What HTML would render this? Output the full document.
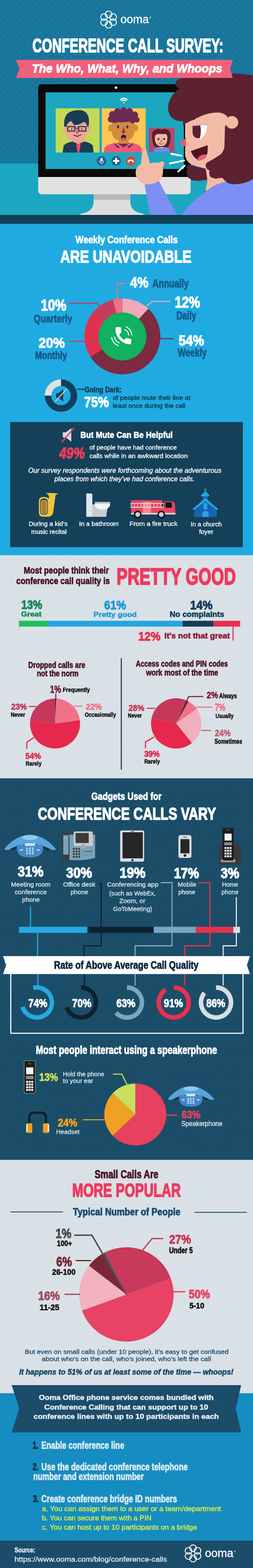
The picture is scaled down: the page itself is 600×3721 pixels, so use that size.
<!DOCTYPE html>
<html><head><meta charset="utf-8"><title>Conference Call Survey: The Who, What, Why, and Whoops</title>
<style>
html,body{margin:0;padding:0;background:#1b7aa1;}
body{width:600px;height:3721px;overflow:hidden;}
svg{display:block;}
text{font-family:'Liberation Sans', Arial, sans-serif;}
</style></head><body>
<svg width="600" height="3721" viewBox="0 0 600 3721">
<defs>
<pattern id="pHdr" x="0" y="0" width="15" height="14.8" patternUnits="userSpaceOnUse"><rect width="15" height="14.8" fill="#18749b"/><circle cx="3.75" cy="3.7" r="2.9" fill="#1c7aa2"/><circle cx="11.25" cy="11.100000000000001" r="2.9" fill="#1c7aa2"/></pattern>
<pattern id="pGray" x="0" y="0" width="6.5" height="6.4" patternUnits="userSpaceOnUse"><rect width="6.5" height="6.4" fill="#dbe2e8"/><circle cx="1.625" cy="1.6" r="0.8" fill="#c8d5de"/><circle cx="4.875" cy="4.800000000000001" r="0.8" fill="#c8d5de"/></pattern>
<pattern id="pTeal" x="0" y="0" width="6.5" height="6.4" patternUnits="userSpaceOnUse"><rect width="6.5" height="6.4" fill="#1a4c67"/><circle cx="1.625" cy="1.6" r="0.8" fill="#265973"/><circle cx="4.875" cy="4.800000000000001" r="0.8" fill="#265973"/></pattern>
<pattern id="pBox" x="0" y="0" width="12" height="12" patternUnits="userSpaceOnUse"><rect width="12" height="12" fill="#163f58"/><circle cx="3.0" cy="3.0" r="0.7" fill="#1b4661"/><circle cx="9.0" cy="9.0" r="0.7" fill="#1b4661"/><circle cx="9.0" cy="3.0" r="0.7" fill="#1b4661"/><circle cx="3.0" cy="9.0" r="0.7" fill="#1b4661"/></pattern>
<pattern id="pBan" x="0" y="0" width="6.5" height="6.4" patternUnits="userSpaceOnUse"><rect width="6.5" height="6.4" fill="#1a4b68"/><circle cx="1.625" cy="1.6" r="0.8" fill="#265973"/><circle cx="4.875" cy="4.800000000000001" r="0.8" fill="#265973"/></pattern>
</defs>
<rect x="0" y="0" width="600" height="388" fill="url(#pHdr)"/>
<rect x="0" y="388" width="600" height="122" fill="#1ca7c0"/>
<rect x="0" y="510" width="600" height="21" fill="#123f56"/>
<rect x="0" y="531" width="600" height="787" fill="#20aae2"/>
<rect x="24" y="1001.5" width="552" height="297" fill="#15405a"/>
<rect x="0" y="1317.5" width="600" height="530" fill="url(#pGray)"/>
<rect x="0" y="1847" width="600" height="905.5" fill="url(#pTeal)"/>
<rect x="0" y="2752.5" width="600" height="554" fill="url(#pGray)"/>
<rect x="0" y="3306.5" width="600" height="350" fill="#168dc0"/>
<rect x="0" y="3656" width="600" height="65" fill="url(#pBan)"/>
<circle cx="257.50" cy="34.20" r="7.9" fill="none" stroke="#fff" stroke-width="2.1"/>
<circle cx="268.15" cy="40.35" r="7.9" fill="none" stroke="#fff" stroke-width="2.1"/>
<circle cx="268.15" cy="52.65" r="7.9" fill="none" stroke="#fff" stroke-width="2.1"/>
<circle cx="257.50" cy="58.80" r="7.9" fill="none" stroke="#fff" stroke-width="2.1"/>
<circle cx="246.85" cy="52.65" r="7.9" fill="none" stroke="#fff" stroke-width="2.1"/>
<circle cx="246.85" cy="40.35" r="7.9" fill="none" stroke="#fff" stroke-width="2.1"/>
<text x="285.5" y="55.0" font-size="27.0" fill="#fff" textLength="67.5" lengthAdjust="spacingAndGlyphs" stroke="#fff" stroke-width="0.5" stroke-linejoin="round">ooma</text>
<text x="354.5" y="44.4" font-size="5.5" fill="#fff" font-weight="bold">®</text>
<text x="77.0" y="123.5" font-size="46.3" fill="#fff" font-weight="bold" textLength="452.9" lengthAdjust="spacingAndGlyphs" stroke="#fff" stroke-width="2.07" stroke-linejoin="round">CONFERENCE CALL SURVEY:</text>
<path d="M222 461 L309 461 L309 478 Q309 503 340 507 L340 510 L191 510 L191 507 Q222 503 222 478 Z" fill="#dcdcdc"/>
<rect x="222" y="461" width="87" height="13" fill="#b7b7b9"/>
<path d="M90.6 420 L452 420 L452 452 Q452 461 443 461 L99.6 461 Q90.6 461 90.6 452 Z" fill="#e2e2e2"/>
<path d="M98.6 200 L444 200 Q452 200 452 208 L452 420 L90.6 420 L90.6 208 Q90.6 200 98.6 200 Z" fill="#0a0a0a"/>
<rect x="108" y="219" width="328" height="182" fill="#1ca7c0"/>
<circle cx="275" cy="208" r="3" fill="#f2f2f2"/>
<path d="M284.9 237.2 A11 11 0 0 1 302.1 237.2" fill="none" stroke="#fff" stroke-width="2.4"/>
<path d="M288.0 239.7 A7 7 0 0 1 299.0 239.7" fill="none" stroke="#fff" stroke-width="2.4"/>
<path d="M290 239.5 A4.5 4.5 0 0 1 297 239.5" fill="none" stroke="#fff" stroke-width="2.4"/>
<circle cx="293.5" cy="244" r="1.6" fill="#fff"/>
<rect x="132" y="257" width="104" height="105" fill="#c3d956"/>
<rect x="241.5" y="257" width="104" height="105" fill="#fdc654"/>
<rect x="353" y="303" width="61" height="58.5" fill="#b04a6c"/>
<path d="M148.5 362 L151 345 Q160 337 176 335 L196 335 Q212 337 220 345 L222 362 Z" fill="#1a3c54"/>
<path d="M176 336 L186 344 L196 336 Z" fill="#f2a394"/>
<path d="M182.5 341 L189.5 341 L191 345 L188 362 L184 362 L181 345 Z" fill="#e8506a"/>
<rect x="174" y="326" width="24" height="12" fill="#f2a394"/>
<ellipse cx="155.5" cy="305" rx="5" ry="7" fill="#f2a394"/>
<ellipse cx="208" cy="305" rx="5" ry="7" fill="#f2a394"/>
<path d="M155 300 Q155 292 165 289 L200 289 Q209 292 208 300 L208 312 Q207 334 182 335 Q156 334 155 312 Z" fill="#f2a394"/>
<path d="M152.5 301 Q150 278 162 268 Q176 259 195 262 Q212 268 211 290 L210 301 L207 301 Q206 292 199 289 Q190 296 176 297 Q171 290 168 287 Q160 291 157 301 Z" fill="#1a3c54"/>
<rect x="160.5" y="300.5" width="17" height="10.5" fill="none" stroke="#1a3c54" stroke-width="2.6"/>
<rect x="186.5" y="300.5" width="17" height="10.5" fill="none" stroke="#1a3c54" stroke-width="2.6"/>
<path d="M177.5 304.0 L186.5 304.0" fill="none" stroke="#1a3c54" stroke-width="2.2" stroke-linejoin="miter"/>
<circle cx="170" cy="306" r="1.6" fill="#1a3c54"/>
<circle cx="194" cy="306" r="1.6" fill="#1a3c54"/>
<path d="M183 303 L180 318 L187 316 Z" fill="#e8506a"/>
<path d="M175 320 Q183 327 192 319" fill="none" stroke="#1a3c54" stroke-width="2.2"/>
<path d="M246 362 L248 350 Q258 341 275 339 L310 339 Q328 341 335 350 L337 362 Z" fill="#ea5a7c"/>
<path d="M278 339 L293 350 L308 339 Z" fill="#6b2b55"/>
<path d="M270 339 L284 349 L280 352 L272 344 Z" fill="#6b2b55"/>
<path d="M316 339 L302 349 L306 352 L314 344 Z" fill="#6b2b55"/>
<rect x="281" y="327" width="24" height="14" fill="#d28a3e"/>
<ellipse cx="262" cy="304" rx="5.5" ry="8" fill="#d28a3e"/>
<ellipse cx="322" cy="304" rx="5.5" ry="8" fill="#d28a3e"/>
<path d="M264 296 Q264 285 275 282 L310 282 Q320 285 320 296 L319 312 Q317 334 292 335 Q266 334 265 312 Z" fill="#d28a3e"/>
<ellipse cx="292" cy="277" rx="31" ry="13" fill="#6b2b55"/>
<circle cx="263" cy="283" r="7.5" fill="#6b2b55"/>
<circle cx="267" cy="272" r="8.5" fill="#6b2b55"/>
<circle cx="279" cy="265" r="8.5" fill="#6b2b55"/>
<circle cx="293" cy="263" r="8.5" fill="#6b2b55"/>
<circle cx="307" cy="265" r="8.5" fill="#6b2b55"/>
<circle cx="319" cy="273" r="8.5" fill="#6b2b55"/>
<circle cx="324" cy="284" r="7" fill="#6b2b55"/>
<circle cx="271" cy="286" r="6" fill="#6b2b55"/>
<circle cx="314" cy="287" r="6" fill="#6b2b55"/>
<path d="M274 291 Q281 286 288 290" fill="none" stroke="#6b2b55" stroke-width="2.5"/>
<ellipse cx="280" cy="301" rx="2.6" ry="4" fill="#124a5a"/>
<ellipse cx="302" cy="301" rx="2.6" ry="4" fill="#124a5a"/>
<path d="M293 301 L289 316 L297 315 Z" fill="#9c2345"/>
<ellipse cx="293" cy="326" rx="6" ry="6.5" fill="#3a1530"/>
<ellipse cx="293" cy="329" rx="4" ry="2.3" fill="#ec6f8f"/>
<path d="M364 361 L365 354 Q372 349 383 349 Q395 349 402 354 L403 361 Z" fill="#6b8de9"/>
<rect x="378" y="343" width="10" height="8" fill="#f2b8a0"/>
<path d="M361 330 Q358 312 368 308 Q376 304 383 308 Q390 304 398 308 Q407 313 404 330 Q403 345 398 349 L368 349 Q362 345 361 330 Z" fill="#5a1f2f"/>
<path d="M367 328 Q367 318 375 318 L392 318 Q397 318 397 328 Q396 347 382 347 Q368 347 367 328 Z" fill="#f2b8a0"/>
<path d="M367 322 Q374 313 383 317 Q391 313 398 322 L398 316 Q390 308 383 312 Q375 308 366 316 Z" fill="#5a1f2f"/>
<ellipse cx="376" cy="330" rx="2.3" ry="2.6" fill="#5a1f2f"/>
<ellipse cx="389" cy="330" rx="2.3" ry="2.6" fill="#5a1f2f"/>
<path d="M382 331 L380 338 L385 337 Z" fill="#e8506a"/>
<path d="M377 340 Q382 344 388 340" fill="none" stroke="#1a6070" stroke-width="1.5"/>
<circle cx="240.7" cy="382" r="11" fill="#1e5b86"/>
<rect x="238" y="374.5" width="5.4" height="9" fill="#fff" rx="2.7"/>
<path d="M235.5 380.5 Q235.5 387 240.7 387 Q245.9 387 245.9 380.5" fill="none" stroke="#fff" stroke-width="1.4"/>
<path d="M240.7 387.0 L240.7 390.0" fill="none" stroke="#fff" stroke-width="1.4" stroke-linejoin="miter"/>
<circle cx="275.5" cy="382" r="11" fill="#1e5b86"/>
<rect x="273.3" y="374.5" width="4.4" height="15" fill="#fff" rx="1"/>
<rect x="268" y="379.8" width="15" height="4.4" fill="#fff" rx="1"/>
<circle cx="310" cy="382" r="11" fill="#d9472f"/>
<path d="M302.5 385.5 Q302 378.5 310 378.5 Q318 378.5 317.5 385.5 L314.5 385.5 L313.8 382.5 Q310 381.3 306.2 382.5 L305.5 385.5 Z" fill="#fff"/>
<path d="M437.8 287 Q412 290 402 272 Q394 252 405 232 Q414 216 426.3 210.8 Q414 206 416.6 196 Q419 186 432 185.5 Q445 179.5 470 177 Q520 174 545 174 Q575 174.5 600 179 L600 426 Q585 436 560 437 Q540 440 520 440 L493 440 L488 400 L470 380 L455 300 Z" fill="#5c2232"/>
<path d="M439 284 L439 368 Q441 382 452 389 Q468 396 486.5 400 L492 430 L487 452 L540 452 L540 432 L527.5 421.7 L510.6 424 L499.8 420.5 Q494 412 497.3 404.8 Q488 402 487.7 391.6 Q490 385 493.7 384.3 Q508 377 525 365 Q532 355 532.3 348 L533.5 300 L541 290 L541 280 Q534 266 505 265 Q478 268 460 285 Z" fill="#f3bba6"/>
<path d="M430 510 Q455 480 470 468 Q478 462 483 460 Q497 446 511 439 Q525 433 536 431 Q550 429.5 560 429.5 Q580 425 600 418 L600 510 Z" fill="#7b8ff4"/>
<path d="M527.5 421.7 Q531 427 534.7 430 Q538 433.5 542 435 Q552 438 560 437 Q582 436 600 425 L600 405 L527 405 Z" fill="#5c2232"/>
<path d="M487 400 L468 396 Q452 391 446 392 Q440 396 445 402 Q440 408 445 414 Q443 422 451 424 Q455 430 465 428 Q473 432 481 427 Q488 429 491.5 425 L488 401 Z" fill="#5c2232"/>
<path d="M434 300 L434 268 L470 262 L545 258 L545 283 Q540 270 528 268.4 Q505 264 479 274.6 Q456 285 438 294 Z" fill="#5c2232"/>
<circle cx="550" cy="290.5" r="15" fill="#f3bba6"/>
<path d="M456.5 299 Q474 295 491.5 297 Q491 318 476 330 Q457 331 456.5 312 Z" fill="#fff"/>
<path d="M456.5 299 L475 297.5 Q478 312 474 328 Q457 330 456.5 312 Z" fill="#5c2232"/>
<path d="M456 298.5 Q474 294 492 296.5" fill="none" stroke="#c9a3b8" stroke-width="1.8"/>
<path d="M441 326.5 L425 341 L441 348.5 Z" fill="#e85a70"/>
<path d="M452.5 358.6 L492.5 344.6 Q493 358 491.3 365 Q486 378 470 380 Q458 374 452.5 358.6 Z" fill="#4e1424"/>
<path d="M467.5 380.5 Q470 369 484 366.5 Q490 366 490.5 368 Q487 378 476 380.5 Q471 381.5 467.5 380.5 Z" fill="#ef5a7a"/>
<path d="M343 438 Q358 428 377 430 L420 510 L356 510 Z" fill="#7b8ff4"/>
<path d="M337 360 Q337 352 340 351 Q345 350 347 356 L356 388 Q365 385 378 386 Q384 381 387 383 Q392 388 386 397 Q388 410 384 420 Q378 432 362 436 Q345 440 333 432 Q320 422 322 405 Q324 395 334 389 Z" fill="#f3bba6"/>
<path d="M406 365 L430 369.5" stroke="#fff" stroke-width="4.2" stroke-linecap="round"/>
<path d="M403 387.7 L436.6 381" stroke="#fff" stroke-width="4.2" stroke-linecap="round"/>
<path d="M422.7 407 L438 393" stroke="#fff" stroke-width="4.2" stroke-linecap="round"/>
<path d="M37.5 142 L552 142 L546 163.5 L552 185 L37.5 185 L46.5 163.5 Z" fill="#f0617b"/>
<text x="75.6" y="172.4" font-size="28.2" fill="#fff" font-weight="bold" font-style="italic" textLength="451.7" lengthAdjust="spacingAndGlyphs" stroke="#fff" stroke-width="1.26" stroke-linejoin="round">The Who, What, Why, and Whoops</text>
<text x="179.0" y="577.1" font-size="24.8" fill="#fff" font-weight="bold" textLength="242.5" lengthAdjust="spacingAndGlyphs" stroke="#fff" stroke-width="1.11" stroke-linejoin="round">Weekly Conference Calls</text>
<text x="142.9" y="622.6" font-size="40.3" fill="#fff" font-weight="bold" textLength="311.2" lengthAdjust="spacingAndGlyphs" stroke="#fff" stroke-width="1.8" stroke-linejoin="round">ARE UNAVOIDABLE</text>
<path d="M290.30 708.40 A90 90 0 0 1 351.91 732.79 L328.63 757.58 A56 56 0 0 0 290.30 742.40 Z" fill="#f0a9b8"/>
<path d="M351.91 732.79 A90 90 0 1 1 214.31 846.62 L243.02 828.41 A56 56 0 1 0 328.63 757.58 Z" fill="#7c2b40"/>
<path d="M214.31 846.62 A90 90 0 0 1 220.95 741.03 L247.15 762.70 A56 56 0 0 0 243.02 828.41 Z" fill="#e4304f"/>
<path d="M220.95 741.03 A90 90 0 0 1 267.92 711.23 L276.37 744.16 A56 56 0 0 0 247.15 762.70 Z" fill="#c63c5b"/>
<path d="M267.92 711.23 A90 90 0 0 1 290.30 708.40 L290.30 742.40 A56 56 0 0 0 276.37 744.16 Z" fill="#f17089"/>
<circle cx="290.3" cy="798.4" r="57" fill="#10b15f"/>
<path transform="translate(267.5 771.5) scale(2.08) rotate(4 12 12)" fill="#fff" stroke="#fff" stroke-width="0.9" stroke-linejoin="round" d="M6.62 10.79c1.44 2.83 3.76 5.14 6.59 6.59l2.2-2.2c.27-.27.67-.36 1.02-.24 1.12.37 2.33.57 3.57.57.55 0 1 .45 1 1V20c0 .55-.45 1-1 1-9.39 0-17-7.61-17-17 0-.55.45-1 1-1h3.5c.55 0 1 .45 1 1 0 1.25.2 2.45.57 3.57.11.35.03.74-.25 1.02l-2.2 2.2z"/>
<path d="M296.10 782.30 A15 15 0 0 1 304.99 795.48" fill="none" stroke="#fff" stroke-width="2.3" stroke-linecap="round"/>
<path d="M299.15 775.45 A22.5 22.5 0 0 1 312.49 795.21" fill="none" stroke="#fff" stroke-width="2.3" stroke-linecap="round"/>
<path d="M282.88 813.62 A19 19 0 0 1 271.35 799.63" fill="none" stroke="#fff" stroke-width="2.3" stroke-linecap="round"/>
<path d="M280.26 820.11 A26 26 0 0 1 264.48 800.96" fill="none" stroke="#fff" stroke-width="2.3" stroke-linecap="round"/>
<path d="M298.5 672.6 L278.3 672.6 L278.3 709.0" fill="none" stroke="#f17089" stroke-width="2.6" stroke-linejoin="miter"/>
<path d="M404.6 715.3 L361.0 715.3 L346.7 727.0" fill="none" stroke="#f0a9b8" stroke-width="2.6" stroke-linejoin="miter"/>
<path d="M378.5 803.7 L412.0 803.7" fill="none" stroke="#7c2b40" stroke-width="2.6" stroke-linejoin="miter"/>
<path d="M163.0 719.5 L229.0 719.5 L237.0 727.0" fill="none" stroke="#c63c5b" stroke-width="2.6" stroke-linejoin="miter"/>
<path d="M163.0 810.0 L201.0 810.0" fill="none" stroke="#e4304f" stroke-width="2.6" stroke-linejoin="miter"/>
<text x="308.8" y="682.0" font-size="34.9" fill="#fff" font-weight="bold" textLength="43.4" lengthAdjust="spacingAndGlyphs" stroke="#fff" stroke-width="1.56" stroke-linejoin="round">4%</text>
<text x="361.6" y="682.2" font-size="27.5" fill="#175a88" font-weight="bold" textLength="85.8" lengthAdjust="spacingAndGlyphs" stroke="#175a88" stroke-width="1.23" stroke-linejoin="round">Annually</text>
<text x="414.5" y="730.4" font-size="36.3" fill="#fff" font-weight="bold" textLength="60.2" lengthAdjust="spacingAndGlyphs" stroke="#fff" stroke-width="1.62" stroke-linejoin="round">12%</text>
<text x="418.4" y="758.4" font-size="26.9" fill="#175a88" font-weight="bold" textLength="47.0" lengthAdjust="spacingAndGlyphs" stroke="#175a88" stroke-width="1.2" stroke-linejoin="round">Daily</text>
<text x="423.8" y="820.2" font-size="35.6" fill="#fff" font-weight="bold" textLength="60.0" lengthAdjust="spacingAndGlyphs" stroke="#fff" stroke-width="1.59" stroke-linejoin="round">54%</text>
<text x="421.6" y="846.3" font-size="27.3" fill="#175a88" font-weight="bold" textLength="68.5" lengthAdjust="spacingAndGlyphs" stroke="#175a88" stroke-width="1.22" stroke-linejoin="round">Weekly</text>
<text x="96.8" y="736.9" font-size="36.3" fill="#fff" font-weight="bold" textLength="60.8" lengthAdjust="spacingAndGlyphs" stroke="#fff" stroke-width="1.62" stroke-linejoin="round">10%</text>
<text x="80.1" y="765.3" font-size="26.2" fill="#175a88" font-weight="bold" textLength="91.2" lengthAdjust="spacingAndGlyphs" stroke="#175a88" stroke-width="1.17" stroke-linejoin="round">Quarterly</text>
<text x="91.8" y="824.5" font-size="33.6" fill="#fff" font-weight="bold" textLength="62.0" lengthAdjust="spacingAndGlyphs" stroke="#fff" stroke-width="1.5" stroke-linejoin="round">20%</text>
<text x="83.1" y="852.0" font-size="26.6" fill="#175a88" font-weight="bold" textLength="76.0" lengthAdjust="spacingAndGlyphs" stroke="#175a88" stroke-width="1.19" stroke-linejoin="round">Monthly</text>
<path d="M144.60 900.20 A38.5 38.5 0 1 1 106.10 938.70 L121.60 938.70 A23 23 0 1 0 144.60 915.70 Z" fill="#123f58"/>
<path d="M106.10 938.70 A38.5 38.5 0 0 1 144.60 900.20 L144.60 915.70 A23 23 0 0 0 121.60 938.70 Z" fill="#dfe2e6"/>
<path d="M133 933 L139 933 L150 924 L150 953 L139 944 L133 944 Z" fill="#123f58"/>
<path d="M131.0 953.0 L158.0 923.0" fill="none" stroke="#b9d3e3" stroke-width="2.4" stroke-linejoin="miter"/>
<path d="M183.0 923.7 L201.0 923.7" fill="none" stroke="#123f58" stroke-width="2.6" stroke-linejoin="miter"/>
<text x="200.4" y="930.6" font-size="18.4" fill="#123f58" font-weight="bold" textLength="88.2" lengthAdjust="spacingAndGlyphs" stroke="#123f58" stroke-width="0.82" stroke-linejoin="round">Going Dark:</text>
<text x="199.6" y="966.2" font-size="35.6" fill="#fff" font-weight="bold" textLength="58.6" lengthAdjust="spacingAndGlyphs" stroke="#fff" stroke-width="1.59" stroke-linejoin="round">75%</text>
<text x="267.4" y="949.1" font-size="14.6" fill="#0f2d45" textLength="184.2" lengthAdjust="spacingAndGlyphs" stroke="#0f2d45" stroke-width="0.37" stroke-linejoin="round">of people mute their line at</text>
<text x="267.4" y="968.3" font-size="14.6" fill="#0f2d45" textLength="172.2" lengthAdjust="spacingAndGlyphs" stroke="#0f2d45" stroke-width="0.37" stroke-linejoin="round">least once during the call</text>
<path d="M149 1026 L156 1026 L169 1016 L169 1048 L156 1038 L149 1038 Z" fill="#dadada"/>
<path d="M146.0 1050.0 L176.0 1015.0" fill="none" stroke="#ef3c5c" stroke-width="3.2" stroke-linejoin="miter"/>
<text x="190.7" y="1039.4" font-size="20.7" fill="#fff" font-weight="bold" textLength="218.9" lengthAdjust="spacingAndGlyphs" stroke="#fff" stroke-width="0.92" stroke-linejoin="round">But Mute Can Be Helpful</text>
<text x="140.4" y="1087.8" font-size="37.6" fill="#f03c5c" font-weight="bold" font-style="italic" textLength="61.0" lengthAdjust="spacingAndGlyphs" stroke="#f03c5c" stroke-width="1.68" stroke-linejoin="round">49%</text>
<text x="212.2" y="1066.7" font-size="14.9" fill="#fff" textLength="207.1" lengthAdjust="spacingAndGlyphs" stroke="#fff" stroke-width="0.38" stroke-linejoin="round">of people have had conference</text>
<text x="212.2" y="1086.8" font-size="14.9" fill="#fff" textLength="233.1" lengthAdjust="spacingAndGlyphs" stroke="#fff" stroke-width="0.38" stroke-linejoin="round">calls while in an awkward location</text>
<text x="66.9" y="1121.8" font-size="16.5" fill="#fff" font-style="italic" textLength="458.2" lengthAdjust="spacingAndGlyphs" stroke="#fff" stroke-width="0.42" stroke-linejoin="round">Our survey respondents were forthcoming about the adventurous</text>
<text x="129.2" y="1141.8" font-size="16.5" fill="#fff" font-style="italic" textLength="332.3" lengthAdjust="spacingAndGlyphs" stroke="#fff" stroke-width="0.42" stroke-linejoin="round">places from which they’ve had conference calls.</text>
<path d="M108 1170 Q123 1169 138.5 1171.4 Q133 1173 131.3 1177 L126.5 1214 Q125 1226 113 1226.3 L102 1226.3 Q92.2 1226.3 92.2 1216 L92.2 1190 Q92.2 1179.3 103 1179.3 Q112 1179.3 116 1184 L116.1 1177 Q113 1172 108 1170 Z" fill="#e9c63b"/>
<rect x="95.3" y="1183" width="17.9" height="38.3" fill="#15405a" rx="7"/>
<rect x="96.8" y="1186.5" width="14.9" height="33" fill="#e9c63b" rx="6"/>
<rect x="98.3" y="1188" width="11.9" height="30" fill="#15405a" rx="5"/>
<rect x="98.8" y="1188.5" width="3" height="29" fill="#e8902c" rx="1.2"/>
<rect x="102.9" y="1188.5" width="3" height="29" fill="#e8902c" rx="1.2"/>
<rect x="107" y="1188.5" width="3" height="29" fill="#e8902c" rx="1.2"/>
<text x="68.0" y="1248.0" font-size="14.3" fill="#fff" textLength="92.4" lengthAdjust="spacingAndGlyphs" stroke="#fff" stroke-width="0.36" stroke-linejoin="round">During a kid’s</text>
<text x="74.1" y="1267.4" font-size="14.3" fill="#fff" textLength="84.0" lengthAdjust="spacingAndGlyphs" stroke="#fff" stroke-width="0.36" stroke-linejoin="round">music recital</text>
<path d="M204.6 1171 L216 1171 Q219 1171 219 1175 L219 1226.5 L204.6 1226.5 Z" fill="#dde6ea"/>
<path d="M219 1197 L256.6 1197 L251.7 1226.5 L219 1226.5 Z" fill="#c6ccd1"/>
<path d="M224.8 1195 L261.5 1195 Q261 1209 243 1209 Q225 1209 224.8 1195 Z" fill="#f3f6f7"/>
<rect x="224.8" y="1191" width="36.7" height="4.3" fill="#b9c1c6" rx="1.5"/>
<text x="187.4" y="1248.0" font-size="14.3" fill="#fff" textLength="94.2" lengthAdjust="spacingAndGlyphs" stroke="#fff" stroke-width="0.36" stroke-linejoin="round">In a bathroom</text>
<path d="M311 1187 L385 1187 L385 1190 L408 1190 Q414 1190 415 1197 L416 1221 L311 1221 Z" fill="#ec4262"/>
<rect x="392.4" y="1192" width="15" height="13" fill="#111" rx="2"/>
<rect x="385" y="1191" width="5" height="14" fill="#111"/>
<rect x="339" y="1191" width="19" height="28.5" fill="#f6879a"/>
<rect x="311" y="1217" width="105" height="4" fill="#d2d2d2"/>
<path d="M309.4 1194.5 L389.3 1194.5" fill="none" stroke="#d8d8d8" stroke-width="2" stroke-linejoin="miter"/>
<path d="M309.4 1204.0 L389.3 1204.0" fill="none" stroke="#d8d8d8" stroke-width="2" stroke-linejoin="miter"/>
<path d="M311.0 1194.5 L311.0 1204.0" fill="none" stroke="#d8d8d8" stroke-width="1.6" stroke-linejoin="miter"/>
<path d="M318.7 1194.5 L318.7 1204.0" fill="none" stroke="#d8d8d8" stroke-width="1.6" stroke-linejoin="miter"/>
<path d="M326.4 1194.5 L326.4 1204.0" fill="none" stroke="#d8d8d8" stroke-width="1.6" stroke-linejoin="miter"/>
<path d="M334.1 1194.5 L334.1 1204.0" fill="none" stroke="#d8d8d8" stroke-width="1.6" stroke-linejoin="miter"/>
<path d="M341.8 1194.5 L341.8 1204.0" fill="none" stroke="#d8d8d8" stroke-width="1.6" stroke-linejoin="miter"/>
<path d="M349.5 1194.5 L349.5 1204.0" fill="none" stroke="#d8d8d8" stroke-width="1.6" stroke-linejoin="miter"/>
<path d="M357.2 1194.5 L357.2 1204.0" fill="none" stroke="#d8d8d8" stroke-width="1.6" stroke-linejoin="miter"/>
<path d="M364.9 1194.5 L364.9 1204.0" fill="none" stroke="#d8d8d8" stroke-width="1.6" stroke-linejoin="miter"/>
<path d="M372.6 1194.5 L372.6 1204.0" fill="none" stroke="#d8d8d8" stroke-width="1.6" stroke-linejoin="miter"/>
<path d="M380.3 1194.5 L380.3 1204.0" fill="none" stroke="#d8d8d8" stroke-width="1.6" stroke-linejoin="miter"/>
<path d="M388.0 1194.5 L388.0 1204.0" fill="none" stroke="#d8d8d8" stroke-width="1.6" stroke-linejoin="miter"/>
<circle cx="326.6" cy="1221" r="9.2" fill="#111"/>
<circle cx="326.6" cy="1221" r="5.8" fill="#c8cdd2"/>
<circle cx="382.4" cy="1221" r="9.2" fill="#111"/>
<circle cx="382.4" cy="1221" r="5.8" fill="#c8cdd2"/>
<text x="307.1" y="1247.8" font-size="14.3" fill="#fff" textLength="113.9" lengthAdjust="spacingAndGlyphs" stroke="#fff" stroke-width="0.36" stroke-linejoin="round">From a fire truck</text>
<path d="M487.0 1159.0 L487.0 1166.0" fill="none" stroke="#2aa3e2" stroke-width="1.8" stroke-linejoin="miter"/>
<path d="M484.0 1161.5 L490.0 1161.5" fill="none" stroke="#2aa3e2" stroke-width="1.8" stroke-linejoin="miter"/>
<path d="M487 1165 L496 1174.4 L478 1174.4 Z" fill="#2aa3e2"/>
<rect x="477" y="1174" width="19" height="4" fill="#2aa3e2"/>
<rect x="481" y="1178" width="12" height="12" fill="#1565b5"/>
<path d="M460.4 1206 L487 1187 L514 1206 L514 1226.8 L460.4 1226.8 Z" fill="#1565b5"/>
<path d="M456.6 1208 L487 1182 L517.7 1208 L513 1210 L487 1189 L461 1210 Z" fill="#2aa3e2"/>
<path d="M482.6 1209 L482.6 1197.5 Q482.6 1193 487.2 1193 Q491.7 1193 491.7 1197.5 L491.7 1209 Z" fill="#2aa3e2"/>
<path d="M480 1226.8 L480 1219 Q480 1212.7 487.4 1212.7 Q494.8 1212.7 494.8 1219 L494.8 1226.8 Z" fill="#2aa3e2"/>
<text x="452.2" y="1248.5" font-size="14.3" fill="#fff" textLength="73.8" lengthAdjust="spacingAndGlyphs" stroke="#fff" stroke-width="0.36" stroke-linejoin="round">In a church</text>
<text x="471.9" y="1267.3" font-size="14.3" fill="#fff" textLength="33.9" lengthAdjust="spacingAndGlyphs" stroke="#fff" stroke-width="0.36" stroke-linejoin="round">foyer</text>
<text x="56.2" y="1361.0" font-size="22.8" fill="#4a1426" font-weight="bold" textLength="201.9" lengthAdjust="spacingAndGlyphs" stroke="#4a1426" stroke-width="1.02" stroke-linejoin="round">Most people think their</text>
<text x="38.5" y="1385.5" font-size="22.8" fill="#4a1426" font-weight="bold" textLength="222.0" lengthAdjust="spacingAndGlyphs" stroke="#4a1426" stroke-width="1.02" stroke-linejoin="round">conference call quality is</text>
<text x="276.6" y="1386.6" font-size="55.1" fill="#f03a5d" font-weight="bold" textLength="282.8" lengthAdjust="spacingAndGlyphs" stroke="#f03a5d" stroke-width="2.46" stroke-linejoin="round">PRETTY GOOD</text>
<text x="50.4" y="1444.8" font-size="29.1" fill="#0e8a58" font-weight="bold" textLength="49.8" lengthAdjust="spacingAndGlyphs" stroke="#0e8a58" stroke-width="1.3" stroke-linejoin="round">13%</text>
<text x="50.1" y="1463.2" font-size="16.8" fill="#0e8a58" font-weight="bold" textLength="48.3" lengthAdjust="spacingAndGlyphs" stroke="#0e8a58" stroke-width="0.75" stroke-linejoin="round">Great</text>
<text x="247.1" y="1445.6" font-size="30.2" fill="#1e9ad8" font-weight="bold" textLength="51.9" lengthAdjust="spacingAndGlyphs" stroke="#1e9ad8" stroke-width="1.35" stroke-linejoin="round">61%</text>
<text x="221.7" y="1464.1" font-size="16.8" fill="#1e9ad8" font-weight="bold" textLength="102.6" lengthAdjust="spacingAndGlyphs" stroke="#1e9ad8" stroke-width="0.75" stroke-linejoin="round">Pretty good</text>
<text x="450.9" y="1445.6" font-size="30.2" fill="#153d58" font-weight="bold" textLength="53.1" lengthAdjust="spacingAndGlyphs" stroke="#153d58" stroke-width="1.35" stroke-linejoin="round">14%</text>
<text x="402.4" y="1464.2" font-size="18.3" fill="#153d58" font-weight="bold" textLength="129.4" lengthAdjust="spacingAndGlyphs" stroke="#153d58" stroke-width="0.82" stroke-linejoin="round">No complaints</text>
<rect x="45" y="1473.2" width="68.4" height="13.8" fill="#1ec158"/>
<rect x="113.2" y="1473.2" width="320.0" height="13.8" fill="#22a6e1"/>
<rect x="433.0" y="1473.2" width="73.60000000000001" height="13.8" fill="#153d58"/>
<rect x="506.4" y="1473.2" width="63.1" height="13.8" fill="#e8304f"/>
<path d="M45.0 1468.0 L45.0 1496.0" fill="none" stroke="#9aa6b0" stroke-width="1" stroke-linejoin="miter"/>
<path d="M552.8 1487.0 L552.8 1520.0" fill="none" stroke="#e8304f" stroke-width="2.6" stroke-linejoin="miter"/>
<text x="327.9" y="1519.7" font-size="29.9" fill="#e8304f" font-weight="bold" textLength="52.8" lengthAdjust="spacingAndGlyphs" stroke="#e8304f" stroke-width="1.34" stroke-linejoin="round">12%</text>
<text x="389.8" y="1514.8" font-size="18.3" fill="#8e1b34" font-weight="bold" textLength="155.3" lengthAdjust="spacingAndGlyphs" stroke="#8e1b34" stroke-width="0.82" stroke-linejoin="round">It’s not that great</text>
<rect x="286.5" y="1562" width="2.5" height="264.5" fill="#153d58"/>
<text x="67.0" y="1584.9" font-size="20.4" fill="#4a1426" font-weight="bold" textLength="135.2" lengthAdjust="spacingAndGlyphs" stroke="#4a1426" stroke-width="0.91" stroke-linejoin="round">Dropped calls are</text>
<text x="87.4" y="1605.2" font-size="20.4" fill="#4a1426" font-weight="bold" textLength="98.8" lengthAdjust="spacingAndGlyphs" stroke="#4a1426" stroke-width="0.91" stroke-linejoin="round">not the norm</text>
<path d="M130.60 1717.00 L129.98 1657.70 A59.3 59.3 0 0 1 133.70 1657.78 Z" fill="#7a2236"/>
<path d="M130.60 1717.00 L133.70 1657.78 A59.3 59.3 0 0 1 189.35 1708.95 Z" fill="#f27189"/>
<path d="M130.60 1717.00 L189.35 1708.95 A59.3 59.3 0 1 1 71.69 1710.18 Z" fill="#e6284c"/>
<path d="M130.60 1717.00 L71.69 1710.18 A59.3 59.3 0 0 1 129.98 1657.70 Z" fill="#c5385a"/>
<path d="M132.3 1646.0 L132.3 1660.0" fill="none" stroke="#7a2236" stroke-width="2.4" stroke-linejoin="miter"/>
<path d="M175.9 1675.7 L194.5 1675.7" fill="none" stroke="#f27189" stroke-width="2.6" stroke-linejoin="miter"/>
<path d="M68.5 1676.6 L86.0 1676.6" fill="none" stroke="#c5385a" stroke-width="2.6" stroke-linejoin="miter"/>
<path d="M63.6 1777.0 L63.6 1761.3 L80.9 1749.8" fill="none" stroke="#e6284c" stroke-width="2.6" stroke-linejoin="miter"/>
<text x="118.7" y="1644.0" font-size="23.9" fill="#7a2236" font-weight="bold" textLength="26.2" lengthAdjust="spacingAndGlyphs" stroke="#7a2236" stroke-width="1.07" stroke-linejoin="round">1%</text>
<text x="148.9" y="1641.6" font-size="14.8" fill="#111111" font-weight="bold" textLength="64.3" lengthAdjust="spacingAndGlyphs" stroke="#111111" stroke-width="0.66" stroke-linejoin="round">Frequently</text>
<text x="203.7" y="1683.9" font-size="20.4" fill="#f27189" font-weight="bold" textLength="37.7" lengthAdjust="spacingAndGlyphs" stroke="#f27189" stroke-width="0.91" stroke-linejoin="round">22%</text>
<text x="200.9" y="1701.4" font-size="14.8" fill="#111111" font-weight="bold" textLength="74.3" lengthAdjust="spacingAndGlyphs" stroke="#111111" stroke-width="0.66" stroke-linejoin="round">Occasionally</text>
<text x="26.5" y="1683.6" font-size="20.4" fill="#c5385a" font-weight="bold" textLength="37.3" lengthAdjust="spacingAndGlyphs" stroke="#c5385a" stroke-width="0.91" stroke-linejoin="round">23%</text>
<text x="25.4" y="1701.2" font-size="14.8" fill="#111111" font-weight="bold" textLength="34.0" lengthAdjust="spacingAndGlyphs" stroke="#111111" stroke-width="0.66" stroke-linejoin="round">Never</text>
<text x="60.3" y="1800.5" font-size="20.4" fill="#e6284c" font-weight="bold" textLength="36.7" lengthAdjust="spacingAndGlyphs" stroke="#e6284c" stroke-width="0.91" stroke-linejoin="round">54%</text>
<text x="61.0" y="1816.8" font-size="14.8" fill="#111111" font-weight="bold" textLength="37.5" lengthAdjust="spacingAndGlyphs" stroke="#111111" stroke-width="0.66" stroke-linejoin="round">Rarely</text>
<text x="322.1" y="1581.5" font-size="20.4" fill="#4a1426" font-weight="bold" textLength="218.4" lengthAdjust="spacingAndGlyphs" stroke="#4a1426" stroke-width="0.91" stroke-linejoin="round">Access codes and PIN codes</text>
<text x="346.4" y="1603.1" font-size="20.4" fill="#4a1426" font-weight="bold" textLength="171.2" lengthAdjust="spacingAndGlyphs" stroke="#4a1426" stroke-width="0.91" stroke-linejoin="round">work most of the time</text>
<path d="M417.80 1716.70 L440.65 1661.54 A59.7 59.7 0 0 1 447.38 1664.84 Z" fill="#7a2236"/>
<path d="M417.80 1716.70 L447.38 1664.84 A59.7 59.7 0 0 1 466.64 1682.37 Z" fill="#f27189"/>
<path d="M417.80 1716.70 L466.64 1682.37 A59.7 59.7 0 0 1 455.13 1763.29 Z" fill="#f2b0bd"/>
<path d="M417.80 1716.70 L455.13 1763.29 A59.7 59.7 0 0 1 359.34 1704.59 Z" fill="#e6284c"/>
<path d="M417.80 1716.70 L359.34 1704.59 A59.7 59.7 0 0 1 440.65 1661.54 Z" fill="#c5385a"/>
<path d="M482.0 1653.0 L447.3 1653.0 L437.5 1676.0" fill="none" stroke="#7a2236" stroke-width="2.6" stroke-linejoin="miter"/>
<path d="M460.8 1678.2 L503.2 1678.2" fill="none" stroke="#f27189" stroke-width="2.6" stroke-linejoin="miter"/>
<path d="M476.3 1733.3 L500.5 1733.3" fill="none" stroke="#c06275" stroke-width="2.6" stroke-linejoin="miter"/>
<path d="M347.8 1680.8 L368.1 1680.8" fill="none" stroke="#c5385a" stroke-width="2.6" stroke-linejoin="miter"/>
<path d="M365.8 1749.0 L345.0 1760.6 L345.0 1775.7" fill="none" stroke="#e6284c" stroke-width="2.6" stroke-linejoin="miter"/>
<text x="490.3" y="1657.3" font-size="21.8" fill="#7a2236" font-weight="bold" textLength="27.1" lengthAdjust="spacingAndGlyphs" stroke="#7a2236" stroke-width="0.97" stroke-linejoin="round">2%</text>
<text x="519.8" y="1656.7" font-size="15.6" fill="#111111" font-weight="bold" textLength="42.1" lengthAdjust="spacingAndGlyphs" stroke="#111111" stroke-width="0.7" stroke-linejoin="round">Always</text>
<text x="509.5" y="1687.3" font-size="23.2" fill="#f27189" font-weight="bold" textLength="24.9" lengthAdjust="spacingAndGlyphs" stroke="#f27189" stroke-width="1.04" stroke-linejoin="round">7%</text>
<text x="511.3" y="1703.7" font-size="14.0" fill="#111111" font-weight="bold" textLength="42.5" lengthAdjust="spacingAndGlyphs" stroke="#111111" stroke-width="0.62" stroke-linejoin="round">Usually</text>
<text x="509.5" y="1747.1" font-size="22.3" fill="#c06275" font-weight="bold" textLength="37.6" lengthAdjust="spacingAndGlyphs" stroke="#c06275" stroke-width="1.0" stroke-linejoin="round">24%</text>
<text x="508.7" y="1765.3" font-size="16.5" fill="#111111" font-weight="bold" textLength="65.6" lengthAdjust="spacingAndGlyphs" stroke="#111111" stroke-width="0.74" stroke-linejoin="round">Sometimes</text>
<text x="305.0" y="1687.0" font-size="20.7" fill="#c5385a" font-weight="bold" textLength="37.2" lengthAdjust="spacingAndGlyphs" stroke="#c5385a" stroke-width="0.92" stroke-linejoin="round">28%</text>
<text x="303.3" y="1702.5" font-size="14.8" fill="#111111" font-weight="bold" textLength="33.1" lengthAdjust="spacingAndGlyphs" stroke="#111111" stroke-width="0.66" stroke-linejoin="round">Never</text>
<text x="341.9" y="1796.0" font-size="20.1" fill="#e6284c" font-weight="bold" textLength="36.6" lengthAdjust="spacingAndGlyphs" stroke="#e6284c" stroke-width="0.9" stroke-linejoin="round">39%</text>
<text x="342.3" y="1811.5" font-size="15.4" fill="#111111" font-weight="bold" textLength="36.9" lengthAdjust="spacingAndGlyphs" stroke="#111111" stroke-width="0.69" stroke-linejoin="round">Rarely</text>
<text x="216.5" y="1898.3" font-size="24.2" fill="#fff" font-weight="bold" textLength="166.9" lengthAdjust="spacingAndGlyphs" stroke="#fff" stroke-width="1.08" stroke-linejoin="round">Gadgets Used for</text>
<text x="89.7" y="1945.1" font-size="40.0" fill="#fff" font-weight="bold" textLength="422.5" lengthAdjust="spacingAndGlyphs" stroke="#fff" stroke-width="1.79" stroke-linejoin="round">CONFERENCE CALLS VARY</text>
<g transform="translate(9 1979) scale(1.0)"><path d="M1 36 Q20 12 46 4 Q62 0 78 4 Q104 12 124 36 Q120 40 111 37 Q92 25 62 24 Q32 25 14 37 Q5 40 1 36 Z" fill="#5ba4dc"/><path d="M14 37 Q32 25 62 24 Q92 25 111 37 L104 39 Q88 29 62 29 Q36 29 21 39 Z" fill="#16303f"/><ellipse cx="62" cy="8.5" rx="19" ry="6" fill="#8ccbf2"/><path d="M31 26 L93 26 L93 34 Q93 56 62 56 Q31 56 31 34 Z" fill="#4687c8"/><rect x="50" y="22" width="24" height="6.5" fill="#cbe8f8"/><ellipse cx="42" cy="38" rx="4" ry="1.8" fill="#bfe0f5"/><ellipse cx="82" cy="38" rx="4" ry="1.8" fill="#bfe0f5"/><ellipse cx="55" cy="34.0" rx="2.6" ry="1.4" fill="#d4ecfa"/><ellipse cx="62" cy="34.0" rx="2.6" ry="1.4" fill="#d4ecfa"/><ellipse cx="69" cy="34.0" rx="2.6" ry="1.4" fill="#d4ecfa"/><ellipse cx="55" cy="38.3" rx="2.6" ry="1.4" fill="#d4ecfa"/><ellipse cx="62" cy="38.3" rx="2.6" ry="1.4" fill="#d4ecfa"/><ellipse cx="69" cy="38.3" rx="2.6" ry="1.4" fill="#d4ecfa"/><ellipse cx="55" cy="42.6" rx="2.6" ry="1.4" fill="#d4ecfa"/><ellipse cx="62" cy="42.6" rx="2.6" ry="1.4" fill="#d4ecfa"/><ellipse cx="69" cy="42.6" rx="2.6" ry="1.4" fill="#d4ecfa"/><ellipse cx="55" cy="46.9" rx="2.6" ry="1.4" fill="#d4ecfa"/><ellipse cx="62" cy="46.9" rx="2.6" ry="1.4" fill="#d4ecfa"/><ellipse cx="69" cy="46.9" rx="2.6" ry="1.4" fill="#d4ecfa"/></g>
<g><path d="M146.8 1978 Q146.8 1976.8 149 1976.8 L165 1976.8 Q167 1976.8 167 1979 L167 2040 Q167 2042.4 164 2042.4 L150 2042.4 Q146.8 2042.4 146.8 2040 Z" fill="#3b3b3d"/><rect x="150" y="1982" width="12.5" height="46" fill="#7da2ba"/><path d="M164.7 1980.8 L225.4 1980.8 L225.4 2036 Q200 2043 164.7 2041 Z" fill="#7da2ba"/><rect x="174.8" y="1973" width="45.4" height="34.7" rx="3" fill="#c9c9cd"/><rect x="179.2" y="1976.8" width="31.2" height="23.7" fill="#3b3b3d"/><circle cx="197.4" cy="2007.7" r="5" fill="#8fa7b6" stroke="#c9c9cd" stroke-width="1.2"/><circle cx="175.0" cy="2014.5" r="2.4" fill="#3b3b3d"/><circle cx="181.3" cy="2014.5" r="2.4" fill="#3b3b3d"/><circle cx="187.6" cy="2014.5" r="2.4" fill="#3b3b3d"/><circle cx="175.0" cy="2020.8" r="2.4" fill="#3b3b3d"/><circle cx="181.3" cy="2020.8" r="2.4" fill="#3b3b3d"/><circle cx="187.6" cy="2020.8" r="2.4" fill="#3b3b3d"/><circle cx="175.0" cy="2027.1" r="2.4" fill="#3b3b3d"/><circle cx="181.3" cy="2027.1" r="2.4" fill="#3b3b3d"/><circle cx="187.6" cy="2027.1" r="2.4" fill="#3b3b3d"/><circle cx="175.0" cy="2033.4" r="2.4" fill="#3b3b3d"/><circle cx="181.3" cy="2033.4" r="2.4" fill="#3b3b3d"/><circle cx="187.6" cy="2033.4" r="2.4" fill="#3b3b3d"/><rect x="199" y="2018" width="20" height="5" fill="#5e8299"/><rect x="199" y="2028" width="20" height="1.5" fill="#5e8299"/><line x1="196" y1="2014" x2="196" y2="2038" stroke="#5e8299" stroke-width="1"/></g>
<rect x="285" y="1970.8" width="56.8" height="74" fill="#d8dde2" rx="3.5"/>
<rect x="290.5" y="1975" width="48.2" height="62" fill="#262628"/>
<circle cx="314" cy="2041.2" r="2.6" fill="#262628"/>
<rect x="310" y="1972.5" width="8" height="1.2" fill="#262628"/>
<rect x="423.1" y="1981.7" width="30.9" height="54.4" fill="#d8dde2" rx="5"/>
<rect x="428" y="1991.3" width="21.2" height="33.7" fill="#262628"/>
<circle cx="438.6" cy="2030" r="3.2" fill="#262628"/>
<rect x="434.5" y="1986" width="8" height="1.4" fill="#262628"/>
<path d="M519.5 2012 Q519.5 2002.4 529 2002.4 L562 2002.4 Q571 2002.4 571 2012 L571 2049 Q571 2051.6 568 2051.6 L522.5 2051.6 Q519.5 2051.6 519.5 2049 Z" fill="#3a3a3c"/>
<rect x="524" y="2039" width="34" height="7" fill="#9b9b9d" rx="1"/>
<rect x="527.7" y="1964.8" width="26.5" height="77.2" fill="#1d1d1f" rx="4"/>
<rect x="532.5" y="1978.3" width="16.9" height="16.4" fill="#f2f2f2" rx="1"/>
<rect x="537" y="1968.5" width="8" height="1.4" fill="#777"/>
<rect x="531.5" y="1999" width="19" height="7" fill="#8a8a8c"/>
<rect x="532.5" y="2010.0" width="4.6" height="4.6" fill="#f2f2f2"/>
<rect x="538.5" y="2010.0" width="4.6" height="4.6" fill="#f2f2f2"/>
<rect x="544.5" y="2010.0" width="4.6" height="4.6" fill="#f2f2f2"/>
<rect x="532.5" y="2016.6" width="4.6" height="4.6" fill="#f2f2f2"/>
<rect x="538.5" y="2016.6" width="4.6" height="4.6" fill="#f2f2f2"/>
<rect x="544.5" y="2016.6" width="4.6" height="4.6" fill="#f2f2f2"/>
<rect x="532.5" y="2023.2" width="4.6" height="4.6" fill="#f2f2f2"/>
<rect x="538.5" y="2023.2" width="4.6" height="4.6" fill="#f2f2f2"/>
<rect x="544.5" y="2023.2" width="4.6" height="4.6" fill="#f2f2f2"/>
<rect x="532.5" y="2029.8" width="4.6" height="4.6" fill="#f2f2f2"/>
<rect x="538.5" y="2029.8" width="4.6" height="4.6" fill="#f2f2f2"/>
<rect x="544.5" y="2029.8" width="4.6" height="4.6" fill="#f2f2f2"/>
<text x="42.1" y="2080.2" font-size="34.4" fill="#fff" font-weight="bold" textLength="61.2" lengthAdjust="spacingAndGlyphs" stroke="#fff" stroke-width="1.54" stroke-linejoin="round">31%</text>
<text x="156.8" y="2082.8" font-size="34.9" fill="#fff" font-weight="bold" textLength="61.5" lengthAdjust="spacingAndGlyphs" stroke="#fff" stroke-width="1.56" stroke-linejoin="round">30%</text>
<text x="283.7" y="2082.8" font-size="34.9" fill="#fff" font-weight="bold" textLength="61.5" lengthAdjust="spacingAndGlyphs" stroke="#fff" stroke-width="1.56" stroke-linejoin="round">19%</text>
<text x="412.5" y="2083.7" font-size="34.9" fill="#fff" font-weight="bold" textLength="59.6" lengthAdjust="spacingAndGlyphs" stroke="#fff" stroke-width="1.56" stroke-linejoin="round">17%</text>
<text x="523.3" y="2083.7" font-size="34.9" fill="#fff" font-weight="bold" textLength="44.2" lengthAdjust="spacingAndGlyphs" stroke="#fff" stroke-width="1.56" stroke-linejoin="round">3%</text>
<text x="26.1" y="2103.8" font-size="15.4" fill="#dfe7ee" textLength="93.6" lengthAdjust="spacingAndGlyphs" stroke="#dfe7ee" stroke-width="0.39" stroke-linejoin="round">Meeting room</text>
<text x="35.2" y="2122.0" font-size="15.4" fill="#dfe7ee" textLength="75.8" lengthAdjust="spacingAndGlyphs" stroke="#dfe7ee" stroke-width="0.39" stroke-linejoin="round">conference</text>
<text x="52.6" y="2140.0" font-size="15.4" fill="#dfe7ee" textLength="41.5" lengthAdjust="spacingAndGlyphs" stroke="#dfe7ee" stroke-width="0.39" stroke-linejoin="round">phone</text>
<text x="149.7" y="2104.3" font-size="15.4" fill="#dfe7ee" textLength="76.4" lengthAdjust="spacingAndGlyphs" stroke="#dfe7ee" stroke-width="0.39" stroke-linejoin="round">Office desk</text>
<text x="167.2" y="2122.0" font-size="15.4" fill="#dfe7ee" textLength="42.0" lengthAdjust="spacingAndGlyphs" stroke="#dfe7ee" stroke-width="0.39" stroke-linejoin="round">phone</text>
<text x="253.8" y="2104.3" font-size="15.4" fill="#dfe7ee" textLength="122.0" lengthAdjust="spacingAndGlyphs" stroke="#dfe7ee" stroke-width="0.39" stroke-linejoin="round">Conferencing app</text>
<text x="259.0" y="2125.3" font-size="15.4" fill="#dfe7ee" textLength="110.2" lengthAdjust="spacingAndGlyphs" stroke="#dfe7ee" stroke-width="0.39" stroke-linejoin="round">(such as WebEx,</text>
<text x="283.1" y="2143.3" font-size="15.4" fill="#dfe7ee" textLength="61.4" lengthAdjust="spacingAndGlyphs" stroke="#dfe7ee" stroke-width="0.39" stroke-linejoin="round">Zoom, or</text>
<text x="268.2" y="2161.8" font-size="15.4" fill="#dfe7ee" textLength="92.6" lengthAdjust="spacingAndGlyphs" stroke="#dfe7ee" stroke-width="0.39" stroke-linejoin="round">GoToMeeting)</text>
<text x="421.5" y="2103.6" font-size="15.4" fill="#dfe7ee" textLength="44.0" lengthAdjust="spacingAndGlyphs" stroke="#dfe7ee" stroke-width="0.39" stroke-linejoin="round">Mobile</text>
<text x="423.0" y="2121.9" font-size="15.4" fill="#dfe7ee" textLength="40.1" lengthAdjust="spacingAndGlyphs" stroke="#dfe7ee" stroke-width="0.39" stroke-linejoin="round">phone</text>
<text x="526.6" y="2103.6" font-size="15.4" fill="#dfe7ee" textLength="38.2" lengthAdjust="spacingAndGlyphs" stroke="#dfe7ee" stroke-width="0.39" stroke-linejoin="round">Home</text>
<text x="525.2" y="2121.9" font-size="15.4" fill="#dfe7ee" textLength="40.5" lengthAdjust="spacingAndGlyphs" stroke="#dfe7ee" stroke-width="0.39" stroke-linejoin="round">phone</text>
<rect x="45" y="2199.3" width="162.6" height="14.5" fill="#25a9e2"/>
<rect x="207.4" y="2199.3" width="157.39999999999998" height="14.5" fill="#0d2231"/>
<rect x="364.6" y="2199.3" width="99.8" height="14.5" fill="#77a7c3"/>
<rect x="464.2" y="2199.3" width="89.3" height="14.5" fill="#e8304f"/>
<rect x="553.3" y="2199.3" width="15.899999999999999" height="14.5" fill="#d7dde3"/>
<path d="M72.3 2151.0 L72.3 2200.0" fill="none" stroke="#25a9e2" stroke-width="2.8" stroke-linejoin="miter"/>
<path d="M89.0 2213.0 L89.0 2270.0" fill="none" stroke="#25a9e2" stroke-width="2.8" stroke-linejoin="miter"/>
<path d="M234.0 2097.0 L240.0 2097.0 L240.0 2244.5 L199.0 2244.5 L199.0 2270.0" fill="none" stroke="#0d2231" stroke-width="2.8" stroke-linejoin="miter"/>
<path d="M381.0 2094.5 L408.0 2094.5 L408.0 2244.5 L320.3 2244.5 L320.3 2270.0" fill="none" stroke="#77a7c3" stroke-width="2.8" stroke-linejoin="miter"/>
<path d="M469.5 2094.6 L497.8 2094.6 L497.8 2244.5 L438.0 2244.5 L438.0 2270.0" fill="none" stroke="#e8304f" stroke-width="2.8" stroke-linejoin="miter"/>
<path d="M560.5 2129.0 L560.5 2244.5 L529.2 2244.5 L529.2 2270.0" fill="none" stroke="#d7dde3" stroke-width="2.8" stroke-linejoin="miter"/>
<path d="M89.9 2311.0 L89.9 2339.0" fill="none" stroke="#25a9e2" stroke-width="2.8" stroke-linejoin="miter"/>
<path d="M200.1 2311.0 L200.1 2339.0" fill="none" stroke="#0d2231" stroke-width="2.8" stroke-linejoin="miter"/>
<path d="M320.3 2311.0 L320.3 2339.0" fill="none" stroke="#77a7c3" stroke-width="2.8" stroke-linejoin="miter"/>
<path d="M438.0 2311.0 L438.0 2339.0" fill="none" stroke="#e8304f" stroke-width="2.8" stroke-linejoin="miter"/>
<path d="M529.2 2311.0 L529.2 2339.0" fill="none" stroke="#d7dde3" stroke-width="2.8" stroke-linejoin="miter"/>
<path d="M25.5 2300.0 L25.5 2452.0 L576.3 2452.0 L576.3 2300.0" fill="none" stroke="#ffffff" stroke-width="2.6" stroke-linejoin="miter"/>
<path d="M7.2 2269 L592.8 2269 L585.5 2290.5 L592.8 2311.6 L7.2 2311.6 L14.5 2290.5 Z" fill="#ffffff"/>
<text x="128.3" y="2298.9" font-size="25.9" fill="#102a3d" font-weight="bold" textLength="342.4" lengthAdjust="spacingAndGlyphs" stroke="#102a3d" stroke-width="1.16" stroke-linejoin="round">Rate of Above Average Call Quality</text>
<path d="M77.65 2339.20 A41 41 0 1 1 48.40 2391.33 L58.60 2388.11 A30.3 30.3 0 1 0 80.22 2349.59 Z" fill="#25a9e2"/>
<text x="67.3" y="2389.6" font-size="26.9" fill="#fff" font-weight="bold" textLength="45.1" lengthAdjust="spacingAndGlyphs" stroke="#fff" stroke-width="1.2" stroke-linejoin="round">74%</text>
<path d="M192.10 2338.00 A41 41 0 1 1 153.11 2391.67 L163.28 2388.36 A30.3 30.3 0 1 0 192.10 2348.70 Z" fill="#0d2231"/>
<text x="171.0" y="2389.6" font-size="26.9" fill="#fff" font-weight="bold" textLength="45.9" lengthAdjust="spacingAndGlyphs" stroke="#fff" stroke-width="1.2" stroke-linejoin="round">70%</text>
<path d="M301.00 2338.00 A41 41 0 1 1 271.11 2407.07 L278.91 2399.74 A30.3 30.3 0 1 0 301.00 2348.70 Z" fill="#77a7c3"/>
<text x="276.0" y="2389.6" font-size="26.9" fill="#fff" font-weight="bold" textLength="45.1" lengthAdjust="spacingAndGlyphs" stroke="#fff" stroke-width="1.2" stroke-linejoin="round">63%</text>
<path d="M412.00 2338.00 A41 41 0 1 1 390.03 2344.38 L395.76 2353.42 A30.3 30.3 0 1 0 412.00 2348.70 Z" fill="#e8304f"/>
<text x="388.6" y="2389.6" font-size="26.9" fill="#fff" font-weight="bold" textLength="45.4" lengthAdjust="spacingAndGlyphs" stroke="#fff" stroke-width="1.2" stroke-linejoin="round">91%</text>
<path d="M512.30 2338.00 A41 41 0 1 1 480.71 2352.87 L488.95 2359.69 A30.3 30.3 0 1 0 512.30 2348.70 Z" fill="#d7dde3"/>
<text x="489.3" y="2389.6" font-size="26.9" fill="#fff" font-weight="bold" textLength="45.0" lengthAdjust="spacingAndGlyphs" stroke="#fff" stroke-width="1.2" stroke-linejoin="round">86%</text>
<text x="84.9" y="2500.7" font-size="26.9" fill="#fff" font-weight="bold" textLength="430.0" lengthAdjust="spacingAndGlyphs" stroke="#fff" stroke-width="1.2" stroke-linejoin="round">Most people interact using a speakerphone</text>
<path d="M320.90 2644.80 L320.90 2571.30 A73.5 73.5 0 1 1 267.32 2695.11 Z" fill="#e8405f"/>
<path d="M320.90 2644.80 L267.32 2695.11 A73.5 73.5 0 0 1 267.32 2594.49 Z" fill="#f0a022"/>
<path d="M320.90 2644.80 L267.32 2594.49 A73.5 73.5 0 0 1 320.90 2571.30 Z" fill="#c8df5e"/>
<path d="M267.6 2549.0 L288.8 2549.0 L301.3 2574.0" fill="none" stroke="#c8df5e" stroke-width="2.6" stroke-linejoin="miter"/>
<path d="M197.0 2657.2 L248.0 2657.2" fill="none" stroke="#f0a022" stroke-width="2.6" stroke-linejoin="miter"/>
<path d="M394.0 2646.2 L420.4 2646.2" fill="none" stroke="#e8405f" stroke-width="2.6" stroke-linejoin="miter"/>
<rect x="57.2" y="2517.2" width="26.5" height="77.1" fill="#1e1e20" rx="3" stroke="#8d9499" stroke-width="1.2"/>
<rect x="62" y="2533" width="17" height="16.5" fill="#f4f4f4" rx="1"/>
<rect x="66.5" y="2523.5" width="8" height="1.5" fill="#777"/>
<rect x="61.5" y="2553" width="18" height="8" fill="#8a8a8c"/>
<rect x="62" y="2565.0" width="4.8" height="4.6" fill="#f4f4f4"/>
<rect x="68" y="2565.0" width="4.8" height="4.6" fill="#f4f4f4"/>
<rect x="74" y="2565.0" width="4.8" height="4.6" fill="#f4f4f4"/>
<rect x="62" y="2571.4" width="4.8" height="4.6" fill="#f4f4f4"/>
<rect x="68" y="2571.4" width="4.8" height="4.6" fill="#f4f4f4"/>
<rect x="74" y="2571.4" width="4.8" height="4.6" fill="#f4f4f4"/>
<rect x="62" y="2577.8" width="4.8" height="4.6" fill="#f4f4f4"/>
<rect x="68" y="2577.8" width="4.8" height="4.6" fill="#f4f4f4"/>
<rect x="74" y="2577.8" width="4.8" height="4.6" fill="#f4f4f4"/>
<rect x="62" y="2584.2" width="4.8" height="4.6" fill="#f4f4f4"/>
<rect x="68" y="2584.2" width="4.8" height="4.6" fill="#f4f4f4"/>
<rect x="74" y="2584.2" width="4.8" height="4.6" fill="#f4f4f4"/>
<text x="93.0" y="2564.8" font-size="25.9" fill="#c8df5e" font-weight="bold" textLength="44.6" lengthAdjust="spacingAndGlyphs" stroke="#c8df5e" stroke-width="1.16" stroke-linejoin="round">13%</text>
<text x="149.0" y="2554.1" font-size="14.2" fill="#dfe7ee" textLength="98.4" lengthAdjust="spacingAndGlyphs" stroke="#dfe7ee" stroke-width="0.36" stroke-linejoin="round">Hold the phone</text>
<text x="149.0" y="2570.0" font-size="14.2" fill="#dfe7ee" textLength="71.8" lengthAdjust="spacingAndGlyphs" stroke="#dfe7ee" stroke-width="0.36" stroke-linejoin="round">to your ear</text>
<path d="M69.5 2672 L69.5 2652 Q69.5 2640.5 81 2640.5 L97.5 2640.5 Q109 2640.5 109 2652 L109 2672" fill="none" stroke="#0f1f2b" stroke-width="5.5"/>
<rect x="62" y="2665.8" width="14.5" height="22.6" fill="#f0a022" rx="3"/>
<rect x="102" y="2665.8" width="14.5" height="22.6" fill="#f0a022" rx="3"/>
<rect x="62" y="2668" width="3.5" height="18" fill="#e3e3e3" rx="1.5"/>
<rect x="113" y="2668" width="3.5" height="18" fill="#e3e3e3" rx="1.5"/>
<text x="137.3" y="2673.4" font-size="25.9" fill="#f0a022" font-weight="bold" textLength="46.1" lengthAdjust="spacingAndGlyphs" stroke="#f0a022" stroke-width="1.16" stroke-linejoin="round">24%</text>
<text x="133.1" y="2690.6" font-size="14.6" fill="#dfe7ee" textLength="55.5" lengthAdjust="spacingAndGlyphs" stroke="#dfe7ee" stroke-width="0.37" stroke-linejoin="round">Headset</text>
<g transform="translate(397 2576) scale(0.895)"><path d="M1 36 Q20 12 46 4 Q62 0 78 4 Q104 12 124 36 Q120 40 111 37 Q92 25 62 24 Q32 25 14 37 Q5 40 1 36 Z" fill="#5ba4dc"/><path d="M14 37 Q32 25 62 24 Q92 25 111 37 L104 39 Q88 29 62 29 Q36 29 21 39 Z" fill="#16303f"/><ellipse cx="62" cy="8.5" rx="19" ry="6" fill="#8ccbf2"/><path d="M31 26 L93 26 L93 34 Q93 56 62 56 Q31 56 31 34 Z" fill="#4687c8"/><rect x="50" y="22" width="24" height="6.5" fill="#cbe8f8"/><ellipse cx="42" cy="38" rx="4" ry="1.8" fill="#bfe0f5"/><ellipse cx="82" cy="38" rx="4" ry="1.8" fill="#bfe0f5"/><ellipse cx="55" cy="34.0" rx="2.6" ry="1.4" fill="#d4ecfa"/><ellipse cx="62" cy="34.0" rx="2.6" ry="1.4" fill="#d4ecfa"/><ellipse cx="69" cy="34.0" rx="2.6" ry="1.4" fill="#d4ecfa"/><ellipse cx="55" cy="38.3" rx="2.6" ry="1.4" fill="#d4ecfa"/><ellipse cx="62" cy="38.3" rx="2.6" ry="1.4" fill="#d4ecfa"/><ellipse cx="69" cy="38.3" rx="2.6" ry="1.4" fill="#d4ecfa"/><ellipse cx="55" cy="42.6" rx="2.6" ry="1.4" fill="#d4ecfa"/><ellipse cx="62" cy="42.6" rx="2.6" ry="1.4" fill="#d4ecfa"/><ellipse cx="69" cy="42.6" rx="2.6" ry="1.4" fill="#d4ecfa"/><ellipse cx="55" cy="46.9" rx="2.6" ry="1.4" fill="#d4ecfa"/><ellipse cx="62" cy="46.9" rx="2.6" ry="1.4" fill="#d4ecfa"/><ellipse cx="69" cy="46.9" rx="2.6" ry="1.4" fill="#d4ecfa"/></g>
<text x="430.4" y="2653.9" font-size="25.0" fill="#e8405f" font-weight="bold" textLength="45.1" lengthAdjust="spacingAndGlyphs" stroke="#e8405f" stroke-width="1.12" stroke-linejoin="round">63%</text>
<text x="430.0" y="2671.8" font-size="15.9" fill="#dfe7ee" textLength="97.5" lengthAdjust="spacingAndGlyphs" stroke="#dfe7ee" stroke-width="0.4" stroke-linejoin="round">Speakerphone</text>
<text x="224.4" y="2795.8" font-size="27.1" fill="#4a1426" font-weight="bold" textLength="151.3" lengthAdjust="spacingAndGlyphs" stroke="#4a1426" stroke-width="1.21" stroke-linejoin="round">Small Calls Are</text>
<text x="171.2" y="2840.2" font-size="43.6" fill="#f03a5d" font-weight="bold" textLength="257.7" lengthAdjust="spacingAndGlyphs" stroke="#f03a5d" stroke-width="1.95" stroke-linejoin="round">MORE POPULAR</text>
<text x="173.0" y="2884.1" font-size="24.3" fill="#1a4d6e" font-weight="bold" textLength="254.8" lengthAdjust="spacingAndGlyphs" stroke="#1a4d6e" stroke-width="1.09" stroke-linejoin="round">Typical Number of People</text>
<rect x="25" y="2875" width="124.4" height="2" fill="#1a4d6e"/>
<rect x="461.2" y="2876" width="124.5" height="2" fill="#1a4d6e"/>
<path d="M299.70 3071.80 L404.95 3033.49 A112 112 0 0 1 194.45 3110.11 Z" fill="#e84264"/>
<path d="M299.70 3071.80 L194.45 3110.11 A112 112 0 0 1 210.96 3003.46 Z" fill="#f2b2be"/>
<path d="M299.70 3071.80 L210.96 3003.46 A112 112 0 0 1 242.35 2975.60 Z" fill="#7a2838"/>
<path d="M299.70 3071.80 L242.35 2975.60 A112 112 0 0 1 248.51 2972.19 Z" fill="#4b5157"/>
<path d="M299.70 3071.80 L248.51 2972.19 A112 112 0 0 1 404.95 3033.49 Z" fill="#c8395b"/>
<path d="M176.0 2931.3 L218.0 2931.3 L299.7 3071.8" fill="none" stroke="#4b5157" stroke-width="3.4" stroke-linejoin="miter"/>
<path d="M179.5 2991.6 L216.0 2991.6" fill="none" stroke="#7a2838" stroke-width="3" stroke-linejoin="miter"/>
<path d="M152.8 3071.4 L190.0 3071.4" fill="none" stroke="#a04f60" stroke-width="3" stroke-linejoin="miter"/>
<path d="M387.4 2939.3 L360.7 2939.3 L338.2 2967.0" fill="none" stroke="#c8395b" stroke-width="3" stroke-linejoin="miter"/>
<path d="M408.7 3065.4 L439.8 3065.4" fill="none" stroke="#e84264" stroke-width="3" stroke-linejoin="miter"/>
<text x="132.0" y="2937.9" font-size="32.2" fill="#4b5157" font-weight="bold" textLength="37.2" lengthAdjust="spacingAndGlyphs" stroke="#4b5157" stroke-width="1.44" stroke-linejoin="round">1%</text>
<text x="135.1" y="2957.4" font-size="17.5" fill="#111111" font-weight="bold" textLength="35.8" lengthAdjust="spacingAndGlyphs" stroke="#111111" stroke-width="0.78" stroke-linejoin="round">100+</text>
<text x="133.5" y="3005.3" font-size="30.9" fill="#7a2838" font-weight="bold" textLength="37.1" lengthAdjust="spacingAndGlyphs" stroke="#7a2838" stroke-width="1.38" stroke-linejoin="round">6%</text>
<text x="123.5" y="3024.9" font-size="18.1" fill="#111111" font-weight="bold" textLength="55.6" lengthAdjust="spacingAndGlyphs" stroke="#111111" stroke-width="0.81" stroke-linejoin="round">26-100</text>
<text x="90.4" y="3084.8" font-size="30.3" fill="#a04f60" font-weight="bold" textLength="51.6" lengthAdjust="spacingAndGlyphs" stroke="#a04f60" stroke-width="1.36" stroke-linejoin="round">16%</text>
<text x="94.1" y="3108.8" font-size="18.1" fill="#111111" font-weight="bold" textLength="46.5" lengthAdjust="spacingAndGlyphs" stroke="#111111" stroke-width="0.81" stroke-linejoin="round">11-25</text>
<text x="401.2" y="2950.8" font-size="30.2" fill="#c8395b" font-weight="bold" textLength="51.8" lengthAdjust="spacingAndGlyphs" stroke="#c8395b" stroke-width="1.35" stroke-linejoin="round">27%</text>
<text x="400.9" y="2973.7" font-size="19.3" fill="#111111" font-weight="bold" textLength="56.4" lengthAdjust="spacingAndGlyphs" stroke="#111111" stroke-width="0.86" stroke-linejoin="round">Under 5</text>
<text x="447.4" y="3081.2" font-size="29.1" fill="#e84264" font-weight="bold" textLength="50.7" lengthAdjust="spacingAndGlyphs" stroke="#e84264" stroke-width="1.3" stroke-linejoin="round">50%</text>
<text x="449.2" y="3105.2" font-size="18.3" fill="#111111" font-weight="bold" textLength="35.3" lengthAdjust="spacingAndGlyphs" stroke="#111111" stroke-width="0.82" stroke-linejoin="round">5-10</text>
<text x="58.8" y="3213.4" font-size="15.3" fill="#1a4a6a" textLength="483.2" lengthAdjust="spacingAndGlyphs" stroke="#1a4a6a" stroke-width="0.39" stroke-linejoin="round">But even on small calls (under 10 people), it’s easy to get confused</text>
<text x="99.2" y="3230.3" font-size="15.3" fill="#1a4a6a" textLength="401.2" lengthAdjust="spacingAndGlyphs" stroke="#1a4a6a" stroke-width="0.39" stroke-linejoin="round">about who’s on the call, who’s joined, who’s left the call</text>
<text x="45.4" y="3262.1" font-size="18.1" fill="#1a4a6a" font-weight="bold" font-style="italic" textLength="508.2" lengthAdjust="spacingAndGlyphs" stroke="#1a4a6a" stroke-width="0.81" stroke-linejoin="round">It happens to 51% of us at least some of the time — whoops!</text>
<path d="M27.7 3287 L572 3287 L559 3342.5 L572 3399.2 L27.7 3399.2 L45.5 3342.5 Z" fill="url(#pBan)"/>
<text x="92.2" y="3321.9" font-size="16.8" fill="#dfe8f0" font-weight="bold" textLength="414.4" lengthAdjust="spacingAndGlyphs" stroke="#dfe8f0" stroke-width="0.75" stroke-linejoin="round">Ooma Office phone service comes bundled with</text>
<text x="105.0" y="3344.5" font-size="16.8" fill="#dfe8f0" font-weight="bold" textLength="388.6" lengthAdjust="spacingAndGlyphs" stroke="#dfe8f0" stroke-width="0.75" stroke-linejoin="round">Conference Calling that can support up to 10</text>
<text x="79.7" y="3367.4" font-size="16.8" fill="#dfe8f0" font-weight="bold" textLength="439.4" lengthAdjust="spacingAndGlyphs" stroke="#dfe8f0" stroke-width="0.75" stroke-linejoin="round">conference lines with up to 10 participants in each</text>
<text x="77.4" y="3437.5" font-size="23.4" fill="#0d2a40" font-weight="bold" textLength="13.4" lengthAdjust="spacingAndGlyphs" stroke="#0d2a40" stroke-width="1.04" stroke-linejoin="round">1.</text>
<text x="98.1" y="3437.5" font-size="23.4" fill="#dde8f2" font-weight="bold" textLength="196.6" lengthAdjust="spacingAndGlyphs" stroke="#dde8f2" stroke-width="1.04" stroke-linejoin="round">Enable conference line</text>
<text x="77.4" y="3489.0" font-size="23.4" fill="#0d2a40" font-weight="bold" textLength="13.4" lengthAdjust="spacingAndGlyphs" stroke="#0d2a40" stroke-width="1.04" stroke-linejoin="round">2.</text>
<text x="98.1" y="3489.0" font-size="23.4" fill="#dde8f2" font-weight="bold" textLength="347.2" lengthAdjust="spacingAndGlyphs" stroke="#dde8f2" stroke-width="1.04" stroke-linejoin="round">Use the dedicated conference telephone</text>
<text x="78.8" y="3511.7" font-size="23.4" fill="#dde8f2" font-weight="bold" textLength="262.3" lengthAdjust="spacingAndGlyphs" stroke="#dde8f2" stroke-width="1.04" stroke-linejoin="round">number and extension number</text>
<text x="77.9" y="3564.6" font-size="23.4" fill="#0d2a40" font-weight="bold" textLength="13.6" lengthAdjust="spacingAndGlyphs" stroke="#0d2a40" stroke-width="1.04" stroke-linejoin="round">3.</text>
<text x="98.1" y="3564.6" font-size="23.4" fill="#dde8f2" font-weight="bold" textLength="321.7" lengthAdjust="spacingAndGlyphs" stroke="#dde8f2" stroke-width="1.04" stroke-linejoin="round">Create conference bridge ID numbers</text>
<text x="99.5" y="3586.3" font-size="15.9" fill="#e4f244" textLength="424.7" lengthAdjust="spacingAndGlyphs" stroke="#e4f244" stroke-width="0.4" stroke-linejoin="round">a. You can assign them to a user or a team/department</text>
<text x="99.5" y="3608.3" font-size="15.9" fill="#e4f244" textLength="259.9" lengthAdjust="spacingAndGlyphs" stroke="#e4f244" stroke-width="0.4" stroke-linejoin="round">b. You can secure them with a PIN</text>
<text x="99.5" y="3629.7" font-size="15.9" fill="#e4f244" textLength="368.0" lengthAdjust="spacingAndGlyphs" stroke="#e4f244" stroke-width="0.4" stroke-linejoin="round">c. You can host up to 10 participants on a bridge</text>
<text x="34.6" y="3684.1" font-size="16.8" fill="#dfe8f0" font-weight="bold" textLength="48.5" lengthAdjust="spacingAndGlyphs" stroke="#dfe8f0" stroke-width="0.75" stroke-linejoin="round">Source:</text>
<text x="34.4" y="3705.6" font-size="17.2" fill="#dfe8f0" textLength="361.6" lengthAdjust="spacingAndGlyphs" stroke="#dfe8f0" stroke-width="0.44" stroke-linejoin="round">https://www.ooma.com/blog/conference-calls</text>
<circle cx="457.80" cy="3674.00" r="7.9" fill="none" stroke="#fff" stroke-width="2.1"/>
<circle cx="468.45" cy="3680.15" r="7.9" fill="none" stroke="#fff" stroke-width="2.1"/>
<circle cx="468.45" cy="3692.45" r="7.9" fill="none" stroke="#fff" stroke-width="2.1"/>
<circle cx="457.80" cy="3698.60" r="7.9" fill="none" stroke="#fff" stroke-width="2.1"/>
<circle cx="447.15" cy="3692.45" r="7.9" fill="none" stroke="#fff" stroke-width="2.1"/>
<circle cx="447.15" cy="3680.15" r="7.9" fill="none" stroke="#fff" stroke-width="2.1"/>
<text x="486.0" y="3695.0" font-size="27.0" fill="#fff" textLength="67.5" lengthAdjust="spacingAndGlyphs" stroke="#fff" stroke-width="0.5" stroke-linejoin="round">ooma</text>
<text x="555.0" y="3684.4" font-size="5.5" fill="#fff" font-weight="bold">®</text>
</svg>
</body></html>
